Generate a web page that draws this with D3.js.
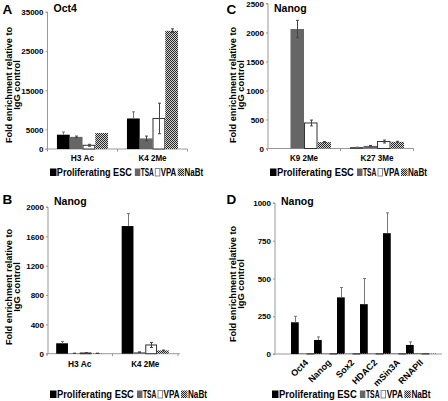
<!DOCTYPE html>
<html><head><meta charset="utf-8">
<script src="https://cdn.jsdelivr.net/npm/d3@7"></script>
<style>
body{margin:0;background:#fff}
text{font-family:"Liberation Sans",Arial,Helvetica,sans-serif;font-weight:bold;fill:#000}
</style>
</head><body>
<svg id="chart" width="448" height="401"></svg>
<script>
// ---------- DATA ----------
const seriesNames = ["Proliferating ESC", "TSA", "VPA", "NaBt"];

// Panel A – Oct4
const catsA = ["H3 Ac", "K4 2Me"];
const escA = [3650, 7800],  escErrA = [700, 1700];
const tsaA = [3100, 2700],  tsaErrA = [200, 600];
const vpaA = [950, 7800],   vpaErrA = [250, 3900];
const nabtA = [4100, 30200], nabtErrA = [0, 500];
const ticksA = [0, 5000, 15000, 25000, 35000];

// Panel B – Nanog
const catsB = ["H3 Ac", "K4 2Me"];
const escB = [142, 1740],  escErrB = [25, 170];
const tsaB = [5, 20],      tsaErrB = [2, 5];
const vpaB = [10, 119],    vpaErrB = [5, 35];
const nabtB = [5, 45],     nabtErrB = [2, 5];
const ticksB = [0, 400, 800, 1200, 1600, 2000];

// Panel C – Nanog
const catsC = ["K9 2Me", "K27 3Me"];
const escC = [0, 20],      escErrC = [0, 5];
const tsaC = [2060, 45],   tsaErrC = [150, 8];
const vpaC = [440, 120],   vpaErrC = [50, 25];
const nabtC = [110, 115],  nabtErrC = [8, 10];
const ticksC = [0, 500, 1000, 1500, 2000, 2500];

// Panel D – Nanog
const catsD = ["Oct4", "Nanog", "Sox2", "HDAC2", "mSin3A", "RNAPII"];
const escD = [210, 93, 375, 330, 800, 60];
const escErrD = [40, 20, 65, 170, 135, 20];
const tsaD = [4, 4, 3, 4, 4, 6];
const vpaD = [2, 2, 2, 2, 2, 2];
const nabtD = [3, 3, 3, 3, 3, 3];
const ticksD = [0, 250, 500, 750, 1000];

// ---------- DRAW ----------
const svg = d3.select("#chart");
const defs = svg.append("defs");
const pat = defs.append("pattern").attr("id", "chk")
  .attr("width", 2).attr("height", 2).attr("patternUnits", "userSpaceOnUse");
pat.append("rect").attr("width", 2).attr("height", 2).attr("fill", "#d0d0d0");
pat.append("rect").attr("width", 1).attr("height", 1).attr("fill", "#2a2a2a");
pat.append("rect").attr("x", 1).attr("y", 1).attr("width", 1).attr("height", 1).attr("fill", "#2a2a2a");

const fills = ["#000", "#666", "#fff", "url(#chk)"];
const strokes = ["none", "none", "#333", "none"];

// squeeze a text element horizontally to a target width
function fitText(sel, x, y, targetW, anchor) {
  const node = sel.node();
  const w = node.getComputedTextLength();
  const k = w > 0 ? targetW / w : 1;
  let tx = x;
  if (anchor === "middle") tx = x - targetW / 2;
  sel.attr("x", 0).attr("y", 0).attr("text-anchor", "start")
    .attr("transform", `translate(${tx},${y}) scale(${k},1)`);
}

const panels = [
  {letter:"A", title:"Oct4", cats:catsA, vals:[escA,tsaA,vpaA,nabtA], errs:[escErrA,tsaErrA,vpaErrA,nabtErrA],
   ticks:ticksA, max:35000, ox:0, axX:47.5, axX1:187.5, bx0:47.5, bx1:187.5, pin:0.27, y0:149, y1:12,
   titleY:85, catY:161, legX:50, legY:176, legS:0.975, rotate:false},
  {letter:"B", title:"Nanog", cats:catsB, vals:[escB,tsaB,vpaB,nabtB], errs:[escErrB,tsaErrB,vpaErrB,nabtErrB],
   ticks:ticksB, max:2000, ox:0, axX:48, axX1:180, bx0:47, bx1:178, pin:0.28, y0:353.7, y1:207,
   titleY:287, catY:367, legX:50, legY:398, legS:1.0, rotate:false},
  {letter:"C", title:"Nanog", cats:catsC, vals:[escC,tsaC,vpaC,nabtC], errs:[escErrC,tsaErrC,vpaErrC,nabtErrC],
   ticks:ticksC, max:2500, ox:224, axX:268, axX1:413.5, bx0:267.5, bx1:413.5, pin:0.26, y0:148.5, y1:3.5,
   titleY:85, catY:161, legX:270, legY:176, legS:1.0, rotate:false},
  {letter:"D", title:"Nanog", cats:catsD, vals:[escD,tsaD,vpaD,nabtD], errs:[escErrD,null,null,null],
   ticks:ticksD, max:1000, ox:224, axX:275, axX1:442, bx0:291, bx1:429, pin:0.0, y0:354, y1:203,
   titleY:284, catY:360, legX:272, legY:398, legS:1.01, rotate:true, subW:31}
];

panels.forEach(p => {
  const g = svg.append("g");
  const y = d3.scaleLinear().domain([0, p.max]).range([p.y0, p.y1]);
  const x = d3.scaleBand().domain(p.cats).range([p.bx0, p.bx1])
    .paddingInner(p.pin).paddingOuter(p.pin / 2);
  const xs = d3.scaleBand().domain(seriesNames).range([0, p.subW || x.bandwidth()]);

  // panel letter + title
  g.append("text").attr("x", p.ox + 2.5).attr("y", p.y0 < 200 ? 13.5 : 203.5)
    .attr("font-size", 13.5).text(p.letter);
  g.append("text").attr("x", p.axX + 6).attr("y", p.y0 < 200 ? 11.5 : 204.5)
    .attr("font-size", 10.5).text(p.title);

  // y axis title
  const ty = g.append("g").attr("transform", `translate(${p.ox + 12},${p.titleY}) rotate(-90)`);
  ty.append("text").attr("text-anchor", "middle").attr("font-size", 9.3)
    .attr("textLength", 116).attr("lengthAdjust", "spacingAndGlyphs")
    .text("Fold enrichment relative to");
  ty.append("text").attr("text-anchor", "middle").attr("font-size", 9.3).attr("y", 7.8)
    .text("IgG control");

  // y axis
  const yAxis = d3.axisLeft(y).tickValues(p.ticks).tickSize(2).tickPadding(2)
    .tickFormat(d3.format("d"));
  const ya = g.append("g").attr("transform", `translate(${p.axX},0)`).call(yAxis);
  ya.select(".domain").attr("stroke", "#999").attr("d", `M-2,${p.y0}H0V${p.y1}H-2`);
  ya.selectAll(".tick line").attr("stroke", "#999");
  ya.selectAll(".tick text").attr("font-size", 8).attr("font-family", null)
    .attr("font-weight", "bold").attr("fill", "#000").attr("dy", "0.34em");

  // x axis line + category ticks
  g.append("line").attr("x1", p.axX).attr("x2", p.axX1).attr("y1", p.y0).attr("y2", p.y0)
    .attr("stroke", "#999");
  if (!p.rotate) {
    const bounds = d3.range(p.cats.length + 1).map(i => p.bx0 + i * x.step());
    g.selectAll(".xt").data(bounds).join("line")
      .attr("x1", d => d).attr("x2", d => d).attr("y1", p.y0).attr("y2", p.y0 + 2.5)
      .attr("stroke", "#999");
  }

  // bars
  seriesNames.forEach((s, si) => {
    g.selectAll(null).data(p.cats).join("rect")
      .attr("x", c => x(c) + xs(s) + (si === 2 ? 0.5 : 0))
      .attr("width", xs.bandwidth() - (si === 2 ? 1 : 0))
      .attr("y", (c, i) => y(p.vals[si][i]))
      .attr("height", (c, i) => Math.max(0, p.y0 - y(p.vals[si][i])))
      .attr("fill", fills[si])
      .attr("stroke", strokes[si]).attr("stroke-width", 1);
  });

  // error bars
  seriesNames.forEach((s, si) => {
    const errs = p.errs[si];
    if (!errs) return;
    p.cats.forEach((c, i) => {
      const e = errs[i];
      if (!e) return;
      const v = p.vals[si][i];
      const cx = Math.round(x(c) + xs(s) + xs.bandwidth() / 2) + 0.5;
      const yTop = y(v + e);
      const yBot = si === 0 ? y(v) : y(Math.max(0, v - e));
      const col = si === 0 ? "#777" : "#444";
      g.append("line").attr("x1", cx).attr("x2", cx).attr("y1", yTop).attr("y2", yBot)
        .attr("stroke", col).attr("stroke-width", 1);
      g.append("line").attr("x1", cx - 1.5).attr("x2", cx + 1.5).attr("y1", yTop).attr("y2", yTop)
        .attr("stroke", col).attr("stroke-width", 1);
      if (si !== 0) {
        g.append("line").attr("x1", cx - 1.5).attr("x2", cx + 1.5).attr("y1", yBot).attr("y2", yBot)
          .attr("stroke", col).attr("stroke-width", 1);
      }
    });
  });

  // category labels
  if (!p.rotate) {
    p.cats.forEach(c => {
      const t = g.append("text").attr("font-size", 9.5).text(c);
      fitText(t, x(c) + x.bandwidth() / 2, p.catY, c.length * 4.7, "middle");
    });
  } else {
    g.selectAll(null).data(p.cats).join("text")
      .attr("transform", c => `translate(${x(c) + x.bandwidth() / 2 + 3},${p.catY}) rotate(-45)`)
      .attr("text-anchor", "end").attr("font-size", 9).attr("dy", "0.5em")
      .text(c => c);
  }

  // legend
  const s = p.legS;
  const items = [
    {m:0, mw:6.5, t:7, tw:77},
    {m:87, mw:5.5, t:93, tw:13.5},
    {m:107.5, mw:5.5, t:113.5, tw:16},
    {m:131, mw:6.5, t:138, tw:19}
  ];
  items.forEach((it, i) => {
    g.append("rect").attr("x", p.legX + it.m * s + (i === 2 ? 0.5 : 0)).attr("y", p.legY - 7.5)
      .attr("width", it.mw - (i === 2 ? 1 : 0)).attr("height", 7.5)
      .attr("fill", fills[i]).attr("stroke", i === 2 ? "#888" : "none");
    const t = g.append("text").attr("font-size", 10).text(seriesNames[i]);
    fitText(t, p.legX + it.t * s, p.legY, it.tw * s, "start");
  });
});
</script>
</body></html>
